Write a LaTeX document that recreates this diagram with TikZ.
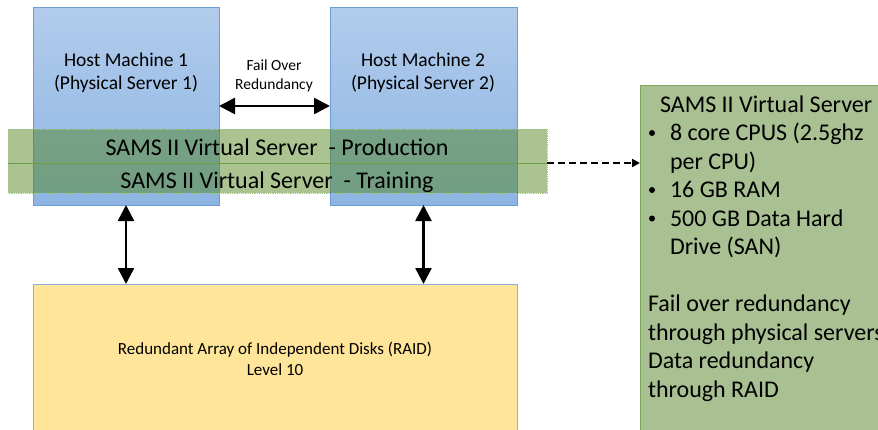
\documentclass[tikz,border=0pt]{standalone}
\usepackage{fontspec}
\setmainfont{Carlito}
\usetikzlibrary{arrows.meta}
\definecolor{hostTop}{RGB}{178,204,236}
\definecolor{hostBot}{RGB}{141,180,227}
\definecolor{hostLine}{RGB}{108,155,213}
\definecolor{bandFill}{RGB}{85,135,35}
\definecolor{bandLine}{RGB}{160,200,130}
\definecolor{bandMid}{RGB}{112,160,70}
\definecolor{raidFill}{RGB}{255,229,153}
\definecolor{raidLine}{RGB}{140,175,220}
\definecolor{specFill}{RGB}{169,193,146}
\definecolor{specLine}{RGB}{125,168,95}
\begin{document}
\begin{tikzpicture}[x=1pt,y=-1pt,
  box/.style={rectangle, inner sep=0pt, outer sep=0pt, anchor=north west},
  hostbox/.style={box, top color=hostTop, bottom color=hostBot, draw=hostLine, line width=1pt},
  bandbox/.style={box, fill=bandFill, fill opacity=0.5, draw=none},
  raidbox/.style={box, fill=raidFill, draw=raidLine, line width=1pt},
  specbox/.style={box, fill=specFill, draw=specLine, line width=1pt},
  txt/.style={inner sep=0pt, outer sep=0pt, anchor=base},
  ltxt/.style={inner sep=0pt, outer sep=0pt, anchor=base west},
  bullet/.style={circle, fill=black, inner sep=0pt, minimum size=6pt},
  hostfont/.style={font=\fontsize{19.5}{23}\selectfont},
  smallfont/.style={font=\fontsize{15.5}{19}\selectfont},
  bigfont/.style={font=\fontsize{24}{28}\selectfont},
  raidfont/.style={font=\fontsize{17}{21}\selectfont},
  bigarrow/.style={{Triangle[length=16pt,width=16pt]}-{Triangle[length=16pt,width=16pt]}, line width=2.5pt},
  dasharrow/.style={-{Triangle[length=8pt,width=8pt]}, line width=2pt, dash pattern=on 7pt off 4pt}
]
\useasboundingbox (0,0) rectangle (878,429);
\clip (0,0) rectangle (878,429);

% host machines
\node[hostbox, minimum width=186pt, minimum height=198pt] (h1) at (33,7) {};
\node[hostbox, minimum width=187pt, minimum height=198pt] (h2) at (330,7) {};
\node[txt, hostfont] (h1a) at (126,66) {Host Machine 1};
\node[txt, hostfont] (h1b) at (126,89) {(Physical Server 1)};
\node[txt, hostfont] (h2a) at (423,66) {Host Machine 2};
\node[txt, hostfont] (h2b) at (423,89) {(Physical Server 2)};

% fail over
\node[txt, smallfont] (fo1) at (274,70) {Fail Over};
\node[txt, smallfont] (fo2) at (274,89) {Redundancy};
\draw[bigarrow] (h1.east) -- (h2.west);

% virtual server band
\node[bandbox, minimum width=539pt, minimum height=34pt] (bandP) at (8,129) {};
\node[bandbox, minimum width=539pt, minimum height=30pt] (bandT) at (8,163) {};
\draw[bandLine, densely dotted, line width=0.8pt] (bandP.north west) rectangle (bandT.south east);
\draw[bandMid, line width=0.8pt] (bandP.south west) -- (bandP.south east);
\node[txt, bigfont] (prod) at (277,155) {SAMS II Virtual Server\ \ - Production};
\node[txt, bigfont] (train) at (277,188) {SAMS II Virtual Server\ \ - Training};

% RAID
\node[raidbox, minimum width=484pt, minimum height=200pt] (raid) at (33,284) {};
\node[txt, raidfont] (raid1) at (275,354) {Redundant Array of Independent Disks (RAID)};
\node[txt, raidfont] (raid2) at (275,375) {Level 10};
\draw[bigarrow] (h1.south) -- (raid.north -| h1.south);
\draw[bigarrow] (h2.south) -- (raid.north -| h2.south);

% spec box
\node[specbox, minimum width=260pt, minimum height=360pt] (spec) at (640,85) {};
\draw[dasharrow] (bandP.south east) -- (spec.west |- bandP.south east);
\node[ltxt, bigfont] (s0) at (660,112) {SAMS II Virtual Server};
\node[bullet] (b1) at (652,133) {};
\node[ltxt, bigfont] (s1) at (670,140.5) {8 core CPUS (2.5ghz};
\node[ltxt, bigfont] (s2) at (670,169) {per CPU)};
\node[bullet] (b3) at (652,190) {};
\node[ltxt, bigfont] (s3) at (670,197.5) {16 GB RAM};
\node[bullet] (b4) at (652,218.5) {};
\node[ltxt, bigfont] (s4) at (670,226) {500 GB Data Hard};
\node[ltxt, bigfont] (s5) at (670,254.5) {Drive (SAN)};
\node[ltxt, bigfont] (s7) at (648,311.5) {Fail over redundancy};
\node[ltxt, bigfont] (s8) at (648,340) {through physical servers};
\node[ltxt, bigfont] (s9) at (648,368.5) {Data redundancy};
\node[ltxt, bigfont] (s10) at (648,397) {through RAID};
\end{tikzpicture}
\end{document}
